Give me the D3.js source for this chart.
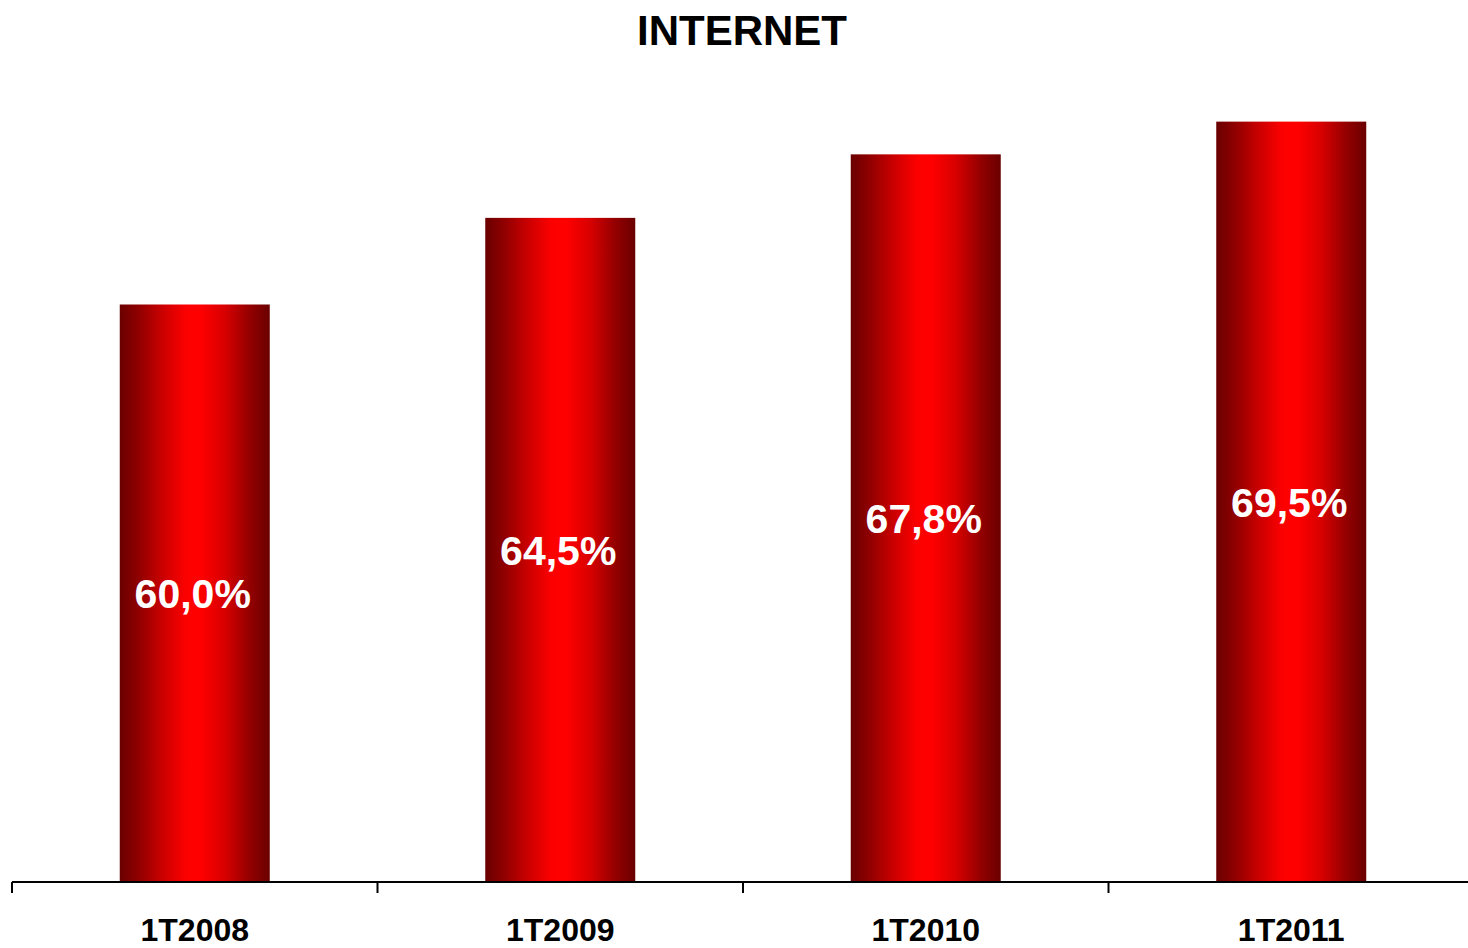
<!DOCTYPE html>
<html>
<head>
<meta charset="utf-8">
<script src="https://cdn.jsdelivr.net/npm/d3@7/dist/d3.min.js"></script>
<style>
  html, body { margin: 0; padding: 0; background: #fff; overflow: hidden; }
  svg { display: block; }
  text { font-family: "Liberation Sans", Arial, Helvetica, sans-serif; font-weight: bold; }
</style>
</head>
<body>
<script>
// Data
const title = "INTERNET";
const categories = ["1T2008", "1T2009", "1T2010", "1T2011"];
const values = [60.0, 64.5, 67.8, 69.5];
const valueLabels = ["60,0%", "64,5%", "67,8%", "69,5%"];

const W = 1468, H = 948;
const svg = d3.select("body").append("svg").attr("width", W).attr("height", H);

// Horizontal shading for the bars: dark edges, bright centre band
const defs = svg.append("defs");
const grad = defs.append("linearGradient")
  .attr("id", "barShade").attr("x1", "0%").attr("x2", "100%").attr("y1", "0%").attr("y2", "0%");
[
  [0, "#6a0000"], [0.12, "#8e0000"], [0.3, "#d00000"], [0.44, "#fc0000"],
  [0.54, "#ff0000"], [0.7, "#d80000"], [0.87, "#920000"], [1, "#6a0000"]
].forEach(([o, c]) => grad.append("stop").attr("offset", o).attr("stop-color", c));

const baseY = 882;
const x = d3.scaleBand().domain(categories).range([12, 1474]).paddingInner(0).paddingOuter(0);
const y = d3.scaleLinear().domain([30, 70]).range([baseY, 112]);
const barW = 150;

// Title
svg.append("text")
  .attr("x", 742).attr("y", 45)
  .attr("text-anchor", "middle")
  .attr("font-size", 42)
  .attr("fill", "#000")
  .text(title);

// Bars
const g = svg.append("g");
g.selectAll("rect.bar")
  .data(values)
  .join("rect")
  .attr("class", "bar")
  .attr("x", (d, i) => x(categories[i]) + x.bandwidth() / 2 - barW / 2)
  .attr("y", d => y(d))
  .attr("width", barW)
  .attr("height", d => baseY - y(d))
  .attr("fill", "url(#barShade)");

// Value labels centred inside each bar
g.selectAll("text.val")
  .data(values)
  .join("text")
  .attr("class", "val")
  .attr("x", (d, i) => x(categories[i]) + x.bandwidth() / 2 - 2)
  .attr("y", d => (y(d) + baseY) / 2 + 15)
  .attr("text-anchor", "middle")
  .attr("font-size", 41)
  .attr("fill", "#fff")
  .text((d, i) => valueLabels[i]);

// X axis: baseline with ticks at category boundaries
const axis = svg.append("g");
axis.append("line")
  .attr("x1", 12).attr("x2", W).attr("y1", baseY).attr("y2", baseY)
  .attr("stroke", "#000").attr("stroke-width", 2);
axis.selectAll("line.tick")
  .data(categories)
  .join("line")
  .attr("class", "tick")
  .attr("x1", d => x(d)).attr("x2", d => x(d))
  .attr("y1", baseY).attr("y2", baseY + 11)
  .attr("stroke", "#000").attr("stroke-width", 2);
axis.selectAll("text.cat")
  .data(categories)
  .join("text")
  .attr("class", "cat")
  .attr("x", d => x(d) + x.bandwidth() / 2)
  .attr("y", 941)
  .attr("text-anchor", "middle")
  .attr("font-size", 32)
  .attr("fill", "#000")
  .text(d => d);
</script>
</body>
</html>
